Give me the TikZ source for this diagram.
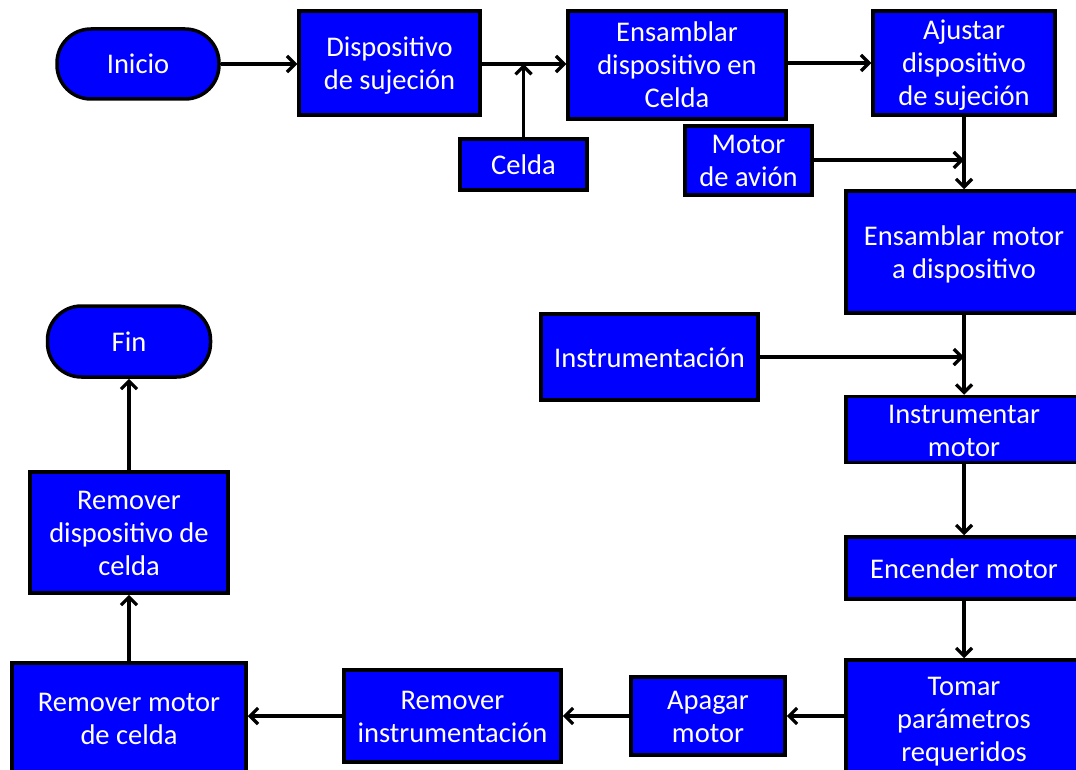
\documentclass[tikz,border=0pt]{standalone}
\usepackage{fontspec}
\setmainfont{Carlito}
\usetikzlibrary{arrows.meta}
\definecolor{boxblue}{RGB}{0,0,255}
\newcommand\ls{\rule[-6.5pt]{0pt}{33pt}}
\tikzset{
  box/.style={draw=black, fill=boxblue, line width=3.5pt, text=white, align=center,
    inner sep=0pt, font=\fontsize{28.5}{33}\selectfont},
  stadium/.style={box, rounded corners=34pt},
  flow/.style={line width=3.2pt, -{Straight Barb[length=8pt,width=16pt]}}
}
\begin{document}
\begin{tikzpicture}[x=1pt,y=-1pt]
\useasboundingbox (0,0) rectangle (1076,770);
\node[stadium, minimum width=162pt, minimum height=70pt] (inicio) at (138,64) {\ls Inicio};
\node[box, minimum width=181pt, minimum height=104pt] (disp) at (389.5,63) {\ls Dispositivo\\\ls de sujeción};
\node[box, minimum width=218pt, minimum height=108pt] (ensd) at (677,65) {\ls Ensamblar\\\ls dispositivo en\\\ls Celda};
\node[box, minimum width=182pt, minimum height=104pt] (ajus) at (964,63) {\ls Ajustar\\\ls dispositivo\\\ls de sujeción};
\node[box, minimum width=127pt, minimum height=51pt] (celda) at (523.5,164.5) {\ls Celda};
\node[box, minimum width=127pt, minimum height=69pt] (motav) at (748.5,160.5) {\ls Motor\\\ls de avión};
\node[box, minimum width=236pt, minimum height=122pt] (ensm) at (964,252) {\ls Ensamblar motor\\\ls a dispositivo};
\node[box, minimum width=217pt, minimum height=86pt] (instr) at (649.5,357) {\ls Instrumentación};
\node[box, minimum width=236pt, minimum height=61pt] (instm) at (964,429.5) {\ls Instrumentar\\\ls motor};
\node[box, minimum width=236pt, minimum height=62pt] (ence) at (964,568) {\ls Encender motor};
\node[box, minimum width=236pt, minimum height=116pt] (tomar) at (964,718) {\ls Tomar\\\ls parámetros\\\ls requeridos};
\node[box, minimum width=154pt, minimum height=78pt] (apag) at (708,716) {\ls Apagar\\\ls motor};
\node[box, minimum width=217pt, minimum height=92pt] (reminst) at (452.5,716) {\ls Remover\\\ls instrumentación};
\node[box, minimum width=234pt, minimum height=110pt] (remmot) at (129,718) {\ls Remover motor\\\ls de celda};
\node[box, minimum width=198pt, minimum height=121pt] (remdisp) at (129,532.5) {\ls Remover\\\ls dispositivo de\\\ls celda};
\node[stadium, minimum width=163pt, minimum height=71pt] (fin) at (129,341.5) {\ls Fin};
\coordinate (j1) at (523.5,64);
\coordinate (j2) at (964,160);
\coordinate (j3) at (964,357);
\draw[flow] (inicio.east) -- (disp.west |- inicio.east);
\draw[flow] (disp.east |- j1) -- (ensd.west |- j1);
\draw[flow] (celda.north) -- (j1);
\draw[flow] (ensd.east |- ajus.west) -- (ajus.west);
\draw[flow] (ajus.south) -- (ensm.north);
\draw[flow] (motav.east |- j2) -- (j2);
\draw[flow] (instr.east) -- (j3);
\draw[flow] (ensm.south) -- (instm.north);
\draw[flow] (instm.south) -- (ence.north);
\draw[flow] (ence.south) -- (tomar.north);
\draw[flow] (tomar.west |- apag.east) -- (apag.east);
\draw[flow] (apag.west) -- (reminst.east);
\draw[flow] (reminst.west) -- (remmot.east |- reminst.west);
\draw[flow] (remmot.north) -- (remdisp.south);
\draw[flow] (remdisp.north) -- (fin.south);
\end{tikzpicture}
\end{document}
